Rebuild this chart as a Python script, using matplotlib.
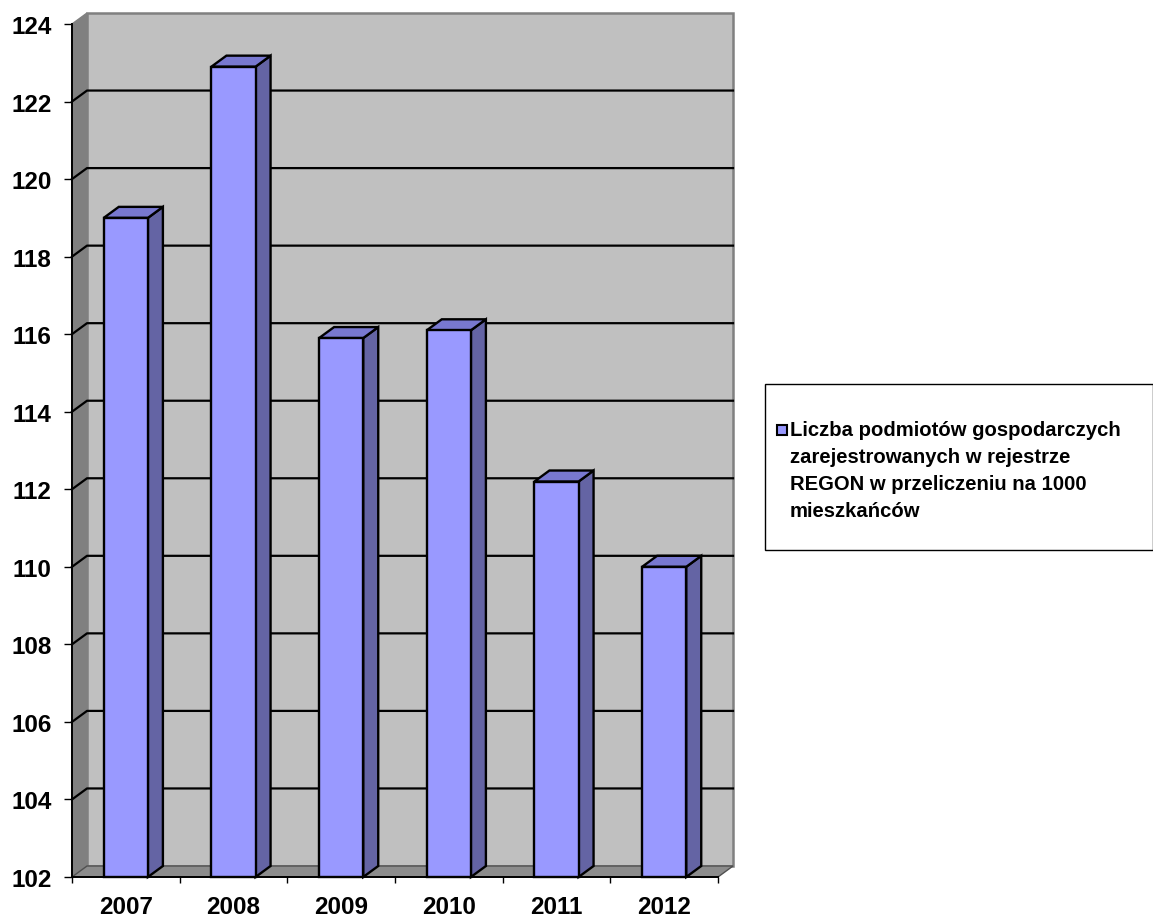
import matplotlib.pyplot as plt
from matplotlib.patches import Polygon, Rectangle

plt.rcParams['font.family'] = ['Liberation Sans', 'DejaVu Sans']
plt.rcParams['font.weight'] = 'bold'

# dane
years = ['2007', '2008', '2009', '2010', '2011', '2012']
values = [119.0, 122.9, 115.9, 116.1, 112.2, 110.0]
y_ticks = list(range(102, 125, 2))
legend_label = ('Liczba podmiotów gospodarczych\nzarejestrowanych w rejestrze\n'
                'REGON w przeliczeniu na 1000\nmieszkańców')

W, H = 1153, 920
fig = plt.figure(figsize=(W / 100, H / 100), dpi=100)

# pozycja osi w pikselach (przednia płaszczyzna)
x0px, x1px, ytop, ybot = 72, 718, 25, 878
ax = fig.add_axes([x0px / W, 1 - ybot / H, (x1px - x0px) / W, (ybot - ytop) / H])
ax.set_xlim(0, len(years))
ax.set_ylim(102, 124)
ax.patch.set_alpha(0)

# głębokość 3D w jednostkach danych
DX = 15 / ((x1px - x0px) / len(years))
DY = 11 / ((ybot - ytop) / 22)
n = len(years)
ymin, ymax = 102, 124

# ściana tylna, lewa i podłoga
ax.add_patch(Polygon([(DX, ymin + DY), (n + DX, ymin + DY), (n + DX, ymax + DY), (DX, ymax + DY)],
                     closed=True, facecolor='#C0C0C0', edgecolor='#808080', lw=1.8,
                     clip_on=False, zorder=0.5))
ax.add_patch(Polygon([(0, ymin), (DX, ymin + DY), (DX, ymax + DY), (0, ymax)],
                     closed=True, facecolor='#808080', edgecolor='#808080', lw=1,
                     clip_on=False, zorder=0.6))
ax.add_patch(Polygon([(0, ymin), (n, ymin), (n + DX, ymin + DY), (DX, ymin + DY)],
                     closed=True, facecolor='#8C8C8C', edgecolor='#505050', lw=1,
                     clip_on=False, zorder=0.6))

# linie siatki
for v in y_ticks[1:-1]:
    ax.plot([0, DX, n + DX], [v, v + DY, v + DY], color='black', lw=1.6,
            clip_on=False, zorder=0.8)

# słupki 3D
half = 0.205
for i, v in enumerate(values):
    a, b = i + 0.5 - half, i + 0.5 + half
    side = Polygon([(b, ymin), (b + DX, ymin + DY), (b + DX, v + DY), (b, v)],
                   closed=True, facecolor='#6464A4', edgecolor='black', lw=1.7,
                   clip_on=False, zorder=2)
    top = Polygon([(a, v), (b, v), (b + DX, v + DY), (a + DX, v + DY)],
                  closed=True, facecolor='#7878D0', edgecolor='black', lw=1.7,
                  clip_on=False, zorder=2)
    front = Rectangle((a, ymin), b - a, v - ymin, facecolor='#9999FF',
                      edgecolor='black', lw=1.7, clip_on=False, zorder=2.1)
    ax.add_patch(side)
    ax.add_patch(top)
    ax.add_patch(front)

# osie
for s in ['top', 'right']:
    ax.spines[s].set_visible(False)
for s in ['left', 'bottom']:
    ax.spines[s].set_linewidth(1.4)
    ax.spines[s].set_zorder(3)

ax.set_yticks(y_ticks)
ax.set_yticklabels([str(t) for t in y_ticks], fontsize=17.5, fontweight='bold')
ax.tick_params(axis='y', length=5.5, width=1, pad=9)

ax.set_xticks(range(n + 1))
ax.set_xticklabels([''] * (n + 1))
ax.set_xticks([i + 0.5 for i in range(n)], minor=True)
ax.set_xticklabels(years, minor=True, fontsize=17.5, fontweight='bold')
ax.tick_params(axis='x', which='major', length=4.5, width=1)
ax.tick_params(axis='x', which='minor', length=0, pad=13)

# legenda (ręcznie, jak w Excelu)
lx0, ly0, lx1, ly1 = 765, 385, 1153, 551
fig.patches.append(Rectangle((lx0 / W, 1 - ly1 / H), (lx1 - lx0) / W, (ly1 - ly0) / H,
                             transform=fig.transFigure, facecolor='white',
                             edgecolor='black', lw=1))
fig.patches.append(Rectangle((777 / W, 1 - 436 / H), 10 / W, 10 / H,
                             transform=fig.transFigure, facecolor='#9999FF',
                             edgecolor='black', lw=1.5))
fig.text(790 / W, 1 - 471 / H, legend_label, fontsize=14.6, fontweight='bold',
         va='center', ha='left', linespacing=1.55)

plt.savefig('out.png', dpi=100, facecolor='white')
